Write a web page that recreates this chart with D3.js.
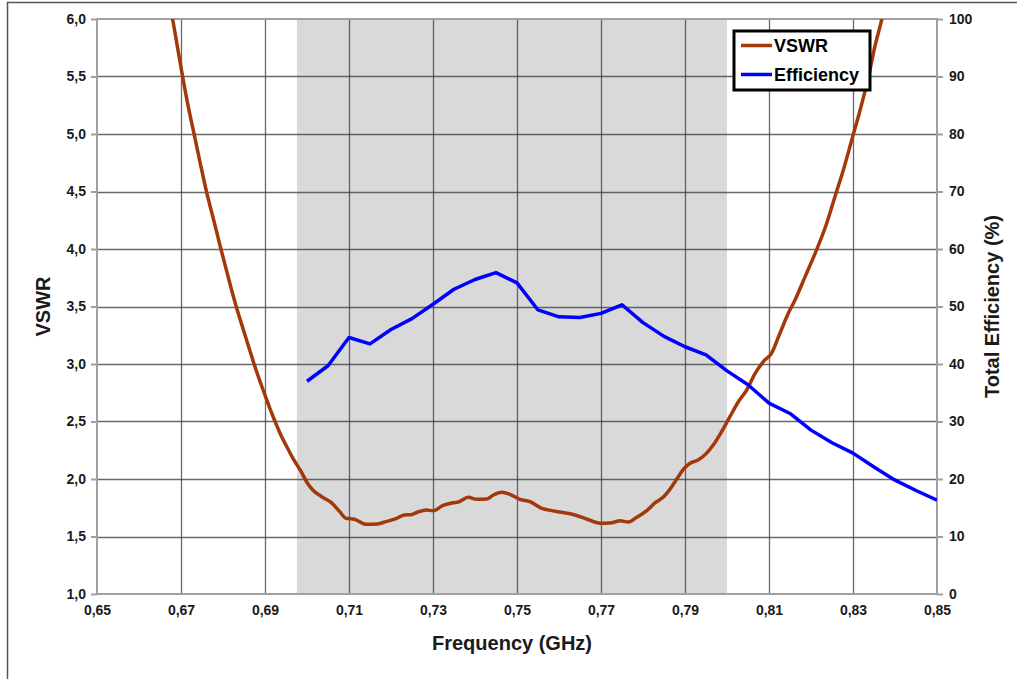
<!DOCTYPE html>
<html>
<head>
    <title>VSWR and Efficiency</title>
</head>
<body>
<style type="text/css">
    body {
        margin: 0;
        background: #fff;
    }

    #renderer {
        width: 1017px;
        height: 679px;
        background: #fff;
        display: block;
    }
</style>
<script type="text/javascript" src="https://cdnjs.cloudflare.com/ajax/libs/d3/7.8.5/d3.min.js"></script>
<svg id='renderer'></svg>

<script type="text/javascript">
    // data
    var vswrFreq = [0.6670, 0.6680, 0.6690, 0.6700, 0.6715, 0.6730, 0.6745, 0.6760, 0.6780, 0.6795,
        0.6810, 0.6820, 0.6833, 0.6850, 0.6862, 0.6874, 0.6888, 0.6900, 0.6912, 0.6924,
        0.6938, 0.6952, 0.6968, 0.6985, 0.7000, 0.7015, 0.7035, 0.7058, 0.7078, 0.7093,
        0.7113, 0.7141, 0.7168, 0.7188, 0.7212, 0.7232, 0.7248, 0.7264, 0.7284, 0.7300,
        0.7324, 0.7348, 0.7360, 0.7384, 0.7404, 0.7428, 0.7444, 0.7464, 0.7483, 0.7507,
        0.7531, 0.7559, 0.7583, 0.7610, 0.7638, 0.7666, 0.7698, 0.7726, 0.7745, 0.7765,
        0.7785, 0.7809, 0.7829, 0.7848, 0.7864, 0.7880, 0.7896, 0.7912, 0.7931, 0.7951,
        0.7968, 0.7987, 0.8007, 0.8027, 0.8047, 0.8067, 0.8090, 0.8106, 0.8126, 0.8146,
        0.8162, 0.8186, 0.8213, 0.8237, 0.8257, 0.8277, 0.8297, 0.8317, 0.8337, 0.8352,
        0.8368, 0.8380];
    var vswrValues = [6.20, 6.00, 5.79, 5.58, 5.28, 5.02, 4.76, 4.51, 4.22, 4.00,
        3.79, 3.65, 3.48, 3.28, 3.14, 3.00, 2.85, 2.73, 2.61, 2.50,
        2.38, 2.28, 2.17, 2.07, 1.97, 1.90, 1.846, 1.795, 1.716, 1.658,
        1.650, 1.606, 1.609, 1.629, 1.655, 1.687, 1.690, 1.713, 1.730, 1.724,
        1.771, 1.794, 1.800, 1.841, 1.823, 1.826, 1.861, 1.884, 1.867, 1.823,
        1.803, 1.745, 1.725, 1.708, 1.687, 1.652, 1.615, 1.620, 1.637, 1.626,
        1.667, 1.725, 1.794, 1.841, 1.910, 1.997, 2.084, 2.137, 2.165, 2.223,
        2.300, 2.411, 2.542, 2.672, 2.774, 2.919, 3.035, 3.093, 3.267, 3.441,
        3.557, 3.760, 3.990, 4.220, 4.455, 4.687, 4.948, 5.209, 5.498, 5.759,
        5.990, 6.200];

    var effFreq = [0.700, 0.705, 0.710, 0.715, 0.720, 0.725, 0.730, 0.735, 0.740, 0.745,
        0.750, 0.755, 0.760, 0.765, 0.770, 0.775, 0.780, 0.785, 0.790, 0.795,
        0.800, 0.805, 0.810, 0.815, 0.820, 0.825, 0.830, 0.835, 0.840, 0.845, 0.850];
    var effValues = [37.0, 39.7, 44.6, 43.5, 46.0, 47.9, 50.4, 53.0, 54.7, 55.9,
        54.1, 49.4, 48.2, 48.1, 48.8, 50.3, 47.2, 44.8, 43.0, 41.6,
        38.8, 36.4, 33.2, 31.4, 28.5, 26.3, 24.5, 22.1, 19.8, 18.0, 16.3];

    // shaded frequency band
    var bandStart = 0.6976;
    var bandEnd = 0.800;

    var xTicks = [0.65, 0.67, 0.69, 0.71, 0.73, 0.75, 0.77, 0.79, 0.81, 0.83, 0.85];
    var xTickLabels = ['0,65', '0,67', '0,69', '0,71', '0,73', '0,75', '0,77', '0,79', '0,81', '0,83', '0,85'];
    var yLeftTicks = [1.0, 1.5, 2.0, 2.5, 3.0, 3.5, 4.0, 4.5, 5.0, 5.5, 6.0];
    var yLeftTickLabels = ['1,0', '1,5', '2,0', '2,5', '3,0', '3,5', '4,0', '4,5', '5,0', '5,5', '6,0'];
    var yRightTicks = [0, 10, 20, 30, 40, 50, 60, 70, 80, 90, 100];

    var seriesNames = ['VSWR', 'Efficiency'];
    var seriesColors = ['#a3380a', '#0000ff'];

    var root = d3.select('#renderer');
    var totalWidth = 1017;
    var totalHeight = 679;

    var plotLeft = 97;
    var plotRight = 937;
    var plotTop = 19;
    var plotBottom = 594;

    var fontFamily = '"Liberation Sans", Arial, sans-serif';

    var x = d3.scaleLinear().domain([0.65, 0.85]).range([plotLeft, plotRight]);
    var yLeft = d3.scaleLinear().domain([1, 6]).range([plotBottom, plotTop]);
    var yRight = d3.scaleLinear().domain([0, 100]).range([plotBottom, plotTop]);

    // outer frame of the chart area
    root.append('rect')
        .attr('x', 7.5)
        .attr('y', 2.5)
        .attr('width', totalWidth + 10)
        .attr('height', totalHeight + 10)
        .attr('fill', 'none')
        .attr('stroke', '#555')
        .attr('stroke-width', 1.5);

    root.append('defs').append('clipPath')
        .attr('id', 'plotClip')
        .append('rect')
        .attr('x', plotLeft)
        .attr('y', plotTop)
        .attr('width', plotRight - plotLeft)
        .attr('height', plotBottom - plotTop);

    // shaded band
    root.append('rect')
        .attr('x', x(bandStart))
        .attr('y', plotTop)
        .attr('width', x(bandEnd) - x(bandStart))
        .attr('height', plotBottom - plotTop)
        .attr('fill', '#d9d9d9');

    // grid lines
    var grid = root.append('g');
    grid.selectAll('line.v')
        .data(xTicks.slice(1, -1))
        .enter().append('line')
        .attr('x1', function (d) { return Math.round(x(d)) + 0.5; })
        .attr('x2', function (d) { return Math.round(x(d)) + 0.5; })
        .attr('y1', plotTop)
        .attr('y2', plotBottom)
        .attr('stroke', '#444')
        .attr('stroke-opacity', 0.8)
        .attr('stroke-width', 1.3);

    grid.selectAll('line.h')
        .data(yLeftTicks.slice(1, -1))
        .enter().append('line')
        .attr('x1', plotLeft)
        .attr('x2', plotRight)
        .attr('y1', function (d) { return Math.round(yLeft(d)) + 0.5; })
        .attr('y2', function (d) { return Math.round(yLeft(d)) + 0.5; })
        .attr('stroke', '#444')
        .attr('stroke-opacity', 0.8)
        .attr('stroke-width', 1.3);

    // plot frame
    root.append('rect')
        .attr('x', plotLeft)
        .attr('y', plotTop)
        .attr('width', plotRight - plotLeft)
        .attr('height', plotBottom - plotTop)
        .attr('fill', 'none')
        .attr('stroke', '#a0a0a0')
        .attr('stroke-width', 2);

    // axes
    var axisLeft = d3.axisLeft(yLeft)
        .tickValues(yLeftTicks)
        .tickFormat(function (d, i) { return yLeftTickLabels[i]; })
        .tickSize(6)
        .tickPadding(5);
    var axisRight = d3.axisRight(yRight)
        .tickValues(yRightTicks)
        .tickSize(6)
        .tickPadding(6);
    var axisBottom = d3.axisBottom(x)
        .tickValues(xTicks)
        .tickFormat(function (d, i) { return xTickLabels[i]; })
        .tickSize(0)
        .tickPadding(11);

    function styleAxis(g) {
        g.select('.domain').remove();
        g.selectAll('.tick line').attr('stroke', '#a0a0a0').attr('stroke-width', 2);
        g.selectAll('.tick text')
            .attr('fill', '#1a1a1a')
            .style('font-family', fontFamily)
            .style('font-weight', 'bold')
            .style('font-size', '14px');
    }

    root.append('g')
        .attr('transform', 'translate(' + plotLeft + ',0)')
        .call(axisLeft)
        .call(styleAxis);
    root.append('g')
        .attr('transform', 'translate(' + plotRight + ',0)')
        .call(axisRight)
        .call(styleAxis);
    root.append('g')
        .attr('transform', 'translate(0,' + plotBottom + ')')
        .call(axisBottom)
        .call(styleAxis);

    // axis titles
    function axisTitle(label, transform) {
        root.append('text')
            .text(label)
            .attr('transform', transform)
            .attr('text-anchor', 'middle')
            .style('font-family', fontFamily)
            .style('font-weight', 'bold')
            .style('font-size', '20px')
            .attr('fill', '#1a1a1a');
    }

    axisTitle('Frequency (GHz)', 'translate(' + 512 + ',650)');
    axisTitle('VSWR', 'translate(50,' + ((plotTop + plotBottom) / 2) + ') rotate(-90)');
    axisTitle('Total Efficiency (%)', 'translate(999,' + ((plotTop + plotBottom) / 2) + ') rotate(-90)');

    // the two curves
    var vswrPoints = vswrFreq.map(function (f, i) { return [f, vswrValues[i]]; });
    var effPoints = effFreq.map(function (f, i) { return [f, effValues[i]]; });

    var vswrLine = d3.line()
        .curve(d3.curveMonotoneX)
        .x(function (d) { return x(d[0]); })
        .y(function (d) { return yLeft(d[1]); });
    var effLine = d3.line()
        .x(function (d) { return x(d[0]); })
        .y(function (d) { return yRight(d[1]); });

    var curves = root.append('g').attr('clip-path', 'url(#plotClip)');
    curves.append('path')
        .datum(vswrPoints)
        .attr('d', vswrLine)
        .attr('fill', 'none')
        .attr('stroke', seriesColors[0])
        .attr('stroke-width', 3.5)
        .attr('stroke-linejoin', 'round');
    curves.append('path')
        .datum(effPoints)
        .attr('d', effLine)
        .attr('fill', 'none')
        .attr('stroke', seriesColors[1])
        .attr('stroke-width', 3.5)
        .attr('stroke-linejoin', 'round');

    // legend
    var legend = root.append('g');
    legend.append('rect')
        .attr('x', 734)
        .attr('y', 31)
        .attr('width', 136)
        .attr('height', 59)
        .attr('fill', '#fff')
        .attr('stroke', '#000')
        .attr('stroke-width', 3);

    for (var i = 0; i < seriesNames.length; i++) {
        var rowY = 45.5 + i * 29;
        legend.append('line')
            .attr('x1', 741)
            .attr('x2', 772)
            .attr('y1', rowY)
            .attr('y2', rowY)
            .attr('stroke', seriesColors[i])
            .attr('stroke-width', 3.5);
        legend.append('text')
            .text(seriesNames[i])
            .attr('x', 774)
            .attr('y', rowY)
            .attr('dominant-baseline', 'central')
            .style('font-family', fontFamily)
            .style('font-weight', 'bold')
            .style('font-size', '18px')
            .attr('fill', '#000');
    }
</script>
</body>
</html>
